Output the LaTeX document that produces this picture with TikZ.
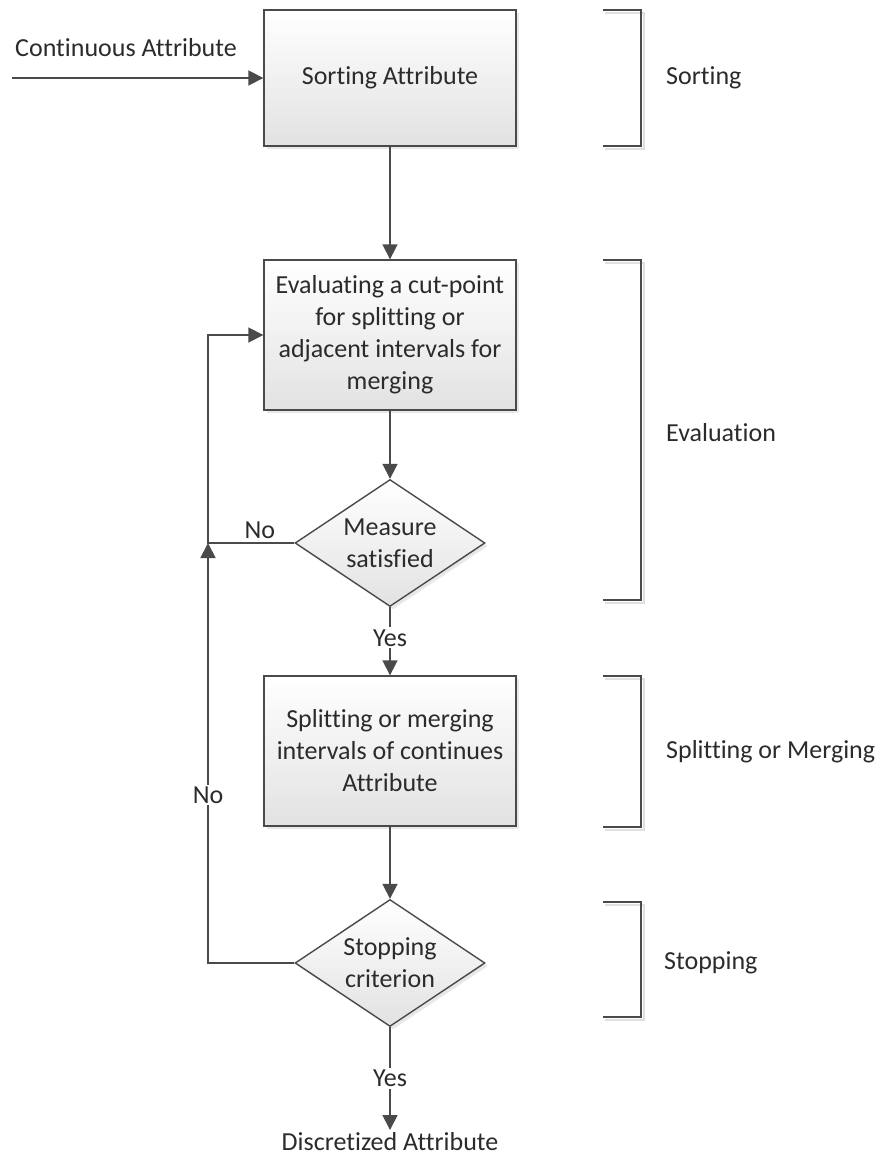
\documentclass[tikz,border=0pt]{standalone}
\usepackage{fontspec}
\setmainfont{Carlito}[Ligatures=NoCommon]
\usetikzlibrary{arrows.meta,shapes.geometric,shadows}
\definecolor{linec}{HTML}{4A4A4A}
\definecolor{txtc}{HTML}{2B2B2B}
\definecolor{fillb}{HTML}{E2E2E2}
\begin{document}
\begin{tikzpicture}[x=1pt,y=-1pt,
  every node/.style={font=\fontsize{26}{32}\selectfont, text=txtc},
  procbox/.style={draw=linec, line width=1.4pt, top color=white, bottom color=fillb,
    minimum width=252pt, minimum height=150pt, align=center, inner sep=0pt,
    drop shadow={shadow xshift=3pt, shadow yshift=-3pt, opacity=0.18}},
  decbox/.style={diamond, aspect=1.5, draw=linec, line width=1.4pt, top color=white, bottom color=fillb,
    minimum width=190pt, minimum height=127pt, inner sep=0pt, align=center,
    drop shadow={shadow xshift=3pt, shadow yshift=-3pt, opacity=0.18}},
  conn/.style={draw=linec, line width=1.8pt, -{Triangle[length=15pt,width=15pt]}},
  brk/.style={draw=linec, line width=1.8pt},
  brkshadow/.style={draw=black!12, line width=2pt},
  lbl/.style={fill=white, inner sep=2pt},
  side/.style={anchor=west, inner sep=0pt}
]
\useasboundingbox (0,0) rectangle (885,1159);

% process nodes
\node[procbox, minimum height=136pt] (sort) at (390,78) {Sorting Attribute};
\node[procbox] (eval) at (390,335) {Evaluating a cut-point\\for splitting or\\adjacent intervals for\\merging};
\node[decbox] (meas) at (390,543) {Measure\\satisfied};
\node[procbox] (split) at (390,751) {Splitting or merging\\intervals of continues\\Attribute};
\node[decbox] (stop) at (390,963) {Stopping\\criterion};
\node[inner sep=2pt, anchor=north] (out) at (390,1130) {Discretized Attribute};

% input
\coordinate (inp) at (12,78);
\node (inlbl) at (126,48) {Continuous Attribute};
\draw[conn] (inp) -- (sort);

% main flow
\draw[conn] (sort) -- (eval);
\draw[conn] (eval) -- (meas);
\draw[conn] (meas) -- node[lbl, pos=0.45] (yes1) {Yes} (split);
\draw[conn] (split) -- (stop);
\draw[conn] (stop) -- node[lbl, pos=0.5] (yes2) {Yes} (out);

% loops
\coordinate (j1) at (208,543);
\draw[conn] (meas.west) -- node[above, pos=0.4] (no1) {No} (j1) |- (eval.west);
\draw[conn] (stop.west) -| node[lbl, pos=0.7] (no2) {No} (j1);

% brackets
\foreach \ya/\yb in {10/146, 260/600, 676/827, 902/1017}{
  \draw[brkshadow] (605,\ya+3) -- (644,\ya+3) -- (644,\yb+3) -- (605,\yb+3);
  \draw[brk] (603,\ya) -- (641,\ya) -- (641,\yb) -- (603,\yb);
}
\node[side] (l1) at (666,78) {Sorting};
\node[side] (l2) at (666,433) {Evaluation};
\node[side] (l3) at (666,752) {Splitting or Merging};
\node[side] (l4) at (664,963) {Stopping};
\end{tikzpicture}
\end{document}
